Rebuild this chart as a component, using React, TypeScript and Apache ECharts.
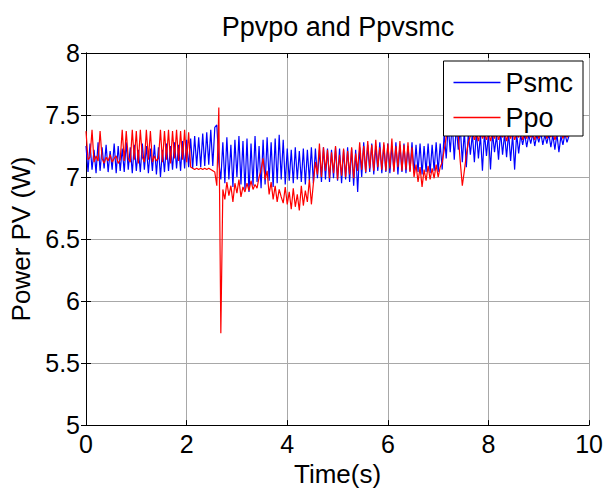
import React, { useEffect, useRef } from "react";
import * as echarts from "echarts";

const TITLE = "Ppvpo and Ppvsmc";
const X_NAME = "Time(s)";
const Y_NAME = "Power PV (W)";
const SERIES_NAMES = ["Psmc", "Ppo"];
const SERIES_COLORS = ["#0000ff", "#ff0000"];
const STEP = 0.04; // sample spacing in seconds

// Psmc samples (W), one every STEP seconds from t = 0
const psmc = [
  7.25, 7.04, 7.27, 7.06, 7.22, 7.03, 7.28, 7.05, 7.24, 7.07,
  7.26, 7.04, 7.21, 7.06, 7.27, 7.03, 7.25, 7.05, 7.23, 7.04,
  7.28, 7.06, 7.24, 7.03, 7.26, 7.05, 7.22, 7.04, 7.27, 7.06,
  7.25, 7.03, 7.23, 7.05, 7.26, 7.02, 7.24, 7.0, 7.22, 7.04,
  7.27, 7.05, 7.25, 7.06, 7.28, 7.07, 7.26, 7.05, 7.29, 7.07,
  7.3, 7.08, 7.31, 7.07, 7.33, 7.09, 7.32, 7.08, 7.35, 7.09,
  7.36, 7.1, 7.38, 7.09, 7.4, 7.42, 7.12, 6.98,
  7.28, 6.95, 7.32, 6.98, 7.26, 6.92, 7.3, 7.0, 7.33, 6.94, 7.29, 6.9,
  7.31, 6.88, 7.27, 6.93, 7.33, 6.96, 7.25, 6.91, 7.3, 6.94,
  7.32, 6.97, 7.28, 6.92, 7.31, 6.95, 7.34, 6.98, 7.3, 6.94,
  7.23, 6.97, 7.22, 6.95, 7.24, 6.98, 7.21, 6.96, 7.23, 6.94,
  7.22, 6.97, 7.24, 6.95, 7.23, 6.99, 7.22, 6.96, 7.24, 6.98,
  7.23, 6.96, 7.22, 6.99, 7.24, 6.97, 7.23, 6.95, 7.22, 6.98,
  7.24, 6.96, 7.23, 6.93, 7.22, 6.88, 7.24, 7.0, 7.28, 7.03,
  7.26, 7.04, 7.27, 7.02, 7.25, 7.05, 7.28, 7.03, 7.26, 7.04,
  7.27, 7.03, 7.25, 7.05, 7.28, 7.02, 7.26, 7.04, 7.27, 7.03,
  7.25, 7.05, 7.28, 7.03, 7.26, 7.04, 7.27, 7.02, 7.25, 7.04,
  7.27, 7.03, 7.26, 7.05, 7.28, 7.04, 7.27, 7.06, 7.36, 7.15,
  7.42, 7.2, 7.44, 7.14, 7.41, 7.22, 7.4, 7.12, 7.37, 7.08,
  7.36, 7.18, 7.35, 7.12, 7.37, 7.15, 7.34, 7.05, 7.36, 7.17,
  7.35, 7.06, 7.36, 7.2, 7.34, 7.14, 7.37, 7.18, 7.35, 7.16,
  7.36, 7.13, 7.34, 7.06, 7.35, 7.19, 7.34, 7.26, 7.35, 7.24,
  7.34, 7.27, 7.35, 7.25, 7.34, 7.28, 7.36, 7.26, 7.34, 7.27,
  7.35, 7.24, 7.34, 7.22, 7.35, 7.2, 7.33, 7.26, 7.35, 7.28, 7.33,
];

// Ppo samples (W), one every STEP seconds from t = 0
const ppo = [
  7.37, 7.14, 7.16, 7.38, 7.12, 7.17, 7.13, 7.37, 7.15, 7.11,
  7.16, 7.13, 7.18, 7.12, 7.15, 7.17, 7.11, 7.14, 7.38, 7.13,
  7.37, 7.15, 7.12, 7.38, 7.14, 7.37, 7.11, 7.38, 7.16, 7.12,
  7.38, 7.14, 7.37, 7.12, 7.17, 7.13, 7.15, 7.38, 7.12, 7.37,
  7.14, 7.38, 7.11, 7.37, 7.15, 7.38, 7.13, 7.37, 7.14, 7.38,
  7.12, 7.36, 7.08, 7.07, 7.06, 7.07, 7.06, 7.07, 7.06, 7.07,
  7.06, 7.07, 7.06, 7.05, 7.04, 6.93, 7.56, 5.74,
  6.9, 6.82, 6.96, 6.85, 6.93, 6.8, 6.95, 6.87, 6.98, 6.84, 6.92, 6.88,
  6.95, 6.89, 6.97, 6.9, 6.94, 6.91, 7.0, 7.06, 7.15, 6.98,
  7.05, 6.86, 6.96, 6.82, 6.93, 6.8, 6.9, 6.84, 6.79, 6.92,
  6.78, 6.88, 6.74, 6.91, 6.76, 6.86, 6.73, 6.93, 6.77, 6.89,
  6.8, 6.98, 6.78, 6.95, 7.12, 7.02, 7.27, 7.0, 7.24, 7.05,
  7.22, 6.99, 7.2, 7.03, 7.25, 6.98, 7.18, 7.01, 7.23, 7.0,
  7.21, 7.02, 7.24, 6.99, 7.19, 7.05, 7.28, 7.06, 7.25, 7.04,
  7.29, 7.07, 7.26, 7.05, 7.3, 7.08, 7.24, 7.06, 7.28, 7.05,
  7.27, 7.07, 7.31, 7.04, 7.25, 7.08, 7.29, 7.05, 7.26, 7.06,
  7.28, 7.04, 7.24, 7.0, 7.1, 6.96, 7.08, 6.92, 7.06, 6.97,
  7.09, 6.98, 7.07, 6.99, 7.1, 7.0, 7.08, 7.12, 7.22, 7.32,
  7.43, 7.36, 7.41, 7.34, 7.39, 7.33, 7.12, 6.93, 7.05, 7.18,
  7.28, 7.33, 7.37, 7.3, 7.36, 7.29, 7.38, 7.31, 7.35, 7.3,
  7.37, 7.29, 7.36, 7.31, 7.38, 7.3, 7.35, 7.32, 7.37, 7.29,
  7.36, 7.31, 7.38, 7.3, 7.35, 7.32, 7.37, 7.3, 7.36, 7.31,
  7.38, 7.32, 7.35, 7.3, 7.37, 7.31, 7.36, 7.33, 7.38, 7.31,
  7.36, 7.32, 7.37, 7.3, 7.35, 7.33, 7.38, 7.31, 7.36, 7.32, 7.35,
];

const X_MIN = 0, X_MAX = 10, X_INT = 2;
const Y_MIN = 5, Y_MAX = 8, Y_INT = 0.5;

const FONT = "'Liberation Sans', Arial, Helvetica, sans-serif";

const toPairs = (arr: number[]) => arr.map((v, i) => [+(i * STEP).toFixed(3), v]);

export default function App() {
  const ref = useRef<HTMLDivElement>(null);
  useEffect(() => {
    if (!ref.current) return;
    const chart = echarts.init(ref.current, undefined, { renderer: "svg" });
    const axisCommon = {
      axisLine: { show: true, lineStyle: { color: "#000", width: 1 } },
      axisTick: { show: true, inside: true, length: 5, lineStyle: { color: "#000" } },
    };
    chart.setOption({
      animation: false,
      backgroundColor: "#fff",
      textStyle: { fontFamily: FONT },
      title: {
        text: TITLE,
        left: 338,
        top: 13,
        padding: 0,
        textAlign: "center",
        textStyle: { fontSize: 27, fontWeight: "normal", color: "#000", fontFamily: FONT },
      },
      grid: { left: 86, right: 16, top: 53, bottom: 63, containLabel: false },
      legend: {
        data: SERIES_NAMES.map((n, i) => ({
          name: n,
          icon: "rect",
          itemStyle: { color: SERIES_COLORS[i], borderWidth: 0 },
        })),
        orient: "vertical",
        right: 23,
        top: 61,
        padding: [8, 10, 5, 10],
        itemWidth: 47,
        itemHeight: 1.5,
        itemGap: 8,
        backgroundColor: "#fff",
        borderColor: "#000",
        borderWidth: 1,
        borderRadius: 0,
        textStyle: { fontSize: 27, color: "#000", fontFamily: FONT, lineHeight: 27 },
      },
      xAxis: [
        {
          type: "value",
          position: "bottom",
          min: X_MIN,
          max: X_MAX,
          interval: X_INT,
          ...axisCommon,
          axisLabel: { fontSize: 25, color: "#000", margin: 6, fontFamily: FONT },
          splitLine: { show: true, lineStyle: { color: "#a8a8a8", width: 1 } },
          name: X_NAME,
          nameLocation: "middle",
          nameGap: 33,
          nameTextStyle: { fontSize: 26, color: "#000", fontFamily: FONT },
        },
        {
          type: "value",
          position: "top",
          min: X_MIN,
          max: X_MAX,
          interval: X_INT,
          ...axisCommon,
          axisLabel: { show: false },
          splitLine: { show: false },
        },
      ],
      yAxis: [
        {
          type: "value",
          position: "left",
          min: Y_MIN,
          max: Y_MAX,
          interval: Y_INT,
          ...axisCommon,
          axisLabel: { fontSize: 25, color: "#000", margin: 6, fontFamily: FONT },
          splitLine: { show: true, lineStyle: { color: "#a8a8a8", width: 1 } },
          name: Y_NAME,
          nameLocation: "middle",
          nameGap: 49,
          nameTextStyle: { fontSize: 26, color: "#000", fontFamily: FONT },
        },
        {
          type: "value",
          position: "right",
          min: Y_MIN,
          max: Y_MAX,
          interval: Y_INT,
          ...axisCommon,
          axisLabel: { show: false },
          splitLine: { show: false },
        },
      ],
      series: [
        {
          name: SERIES_NAMES[0],
          type: "line",
          data: toPairs(psmc),
          symbol: "none",
          lineStyle: { color: SERIES_COLORS[0], width: 1.2 },
          itemStyle: { color: SERIES_COLORS[0] },
          xAxisIndex: 0,
          yAxisIndex: 0,
        },
        {
          name: SERIES_NAMES[1],
          type: "line",
          data: toPairs(ppo),
          symbol: "none",
          lineStyle: { color: SERIES_COLORS[1], width: 1.2 },
          itemStyle: { color: SERIES_COLORS[1] },
          xAxisIndex: 0,
          yAxisIndex: 0,
        },
      ],
    });
    return () => chart.dispose();
  }, []);
  return (
    <div
      ref={ref}
      style={{ position: "absolute", left: 0, top: 0, width: 606, height: 492 }}
    />
  );
}
